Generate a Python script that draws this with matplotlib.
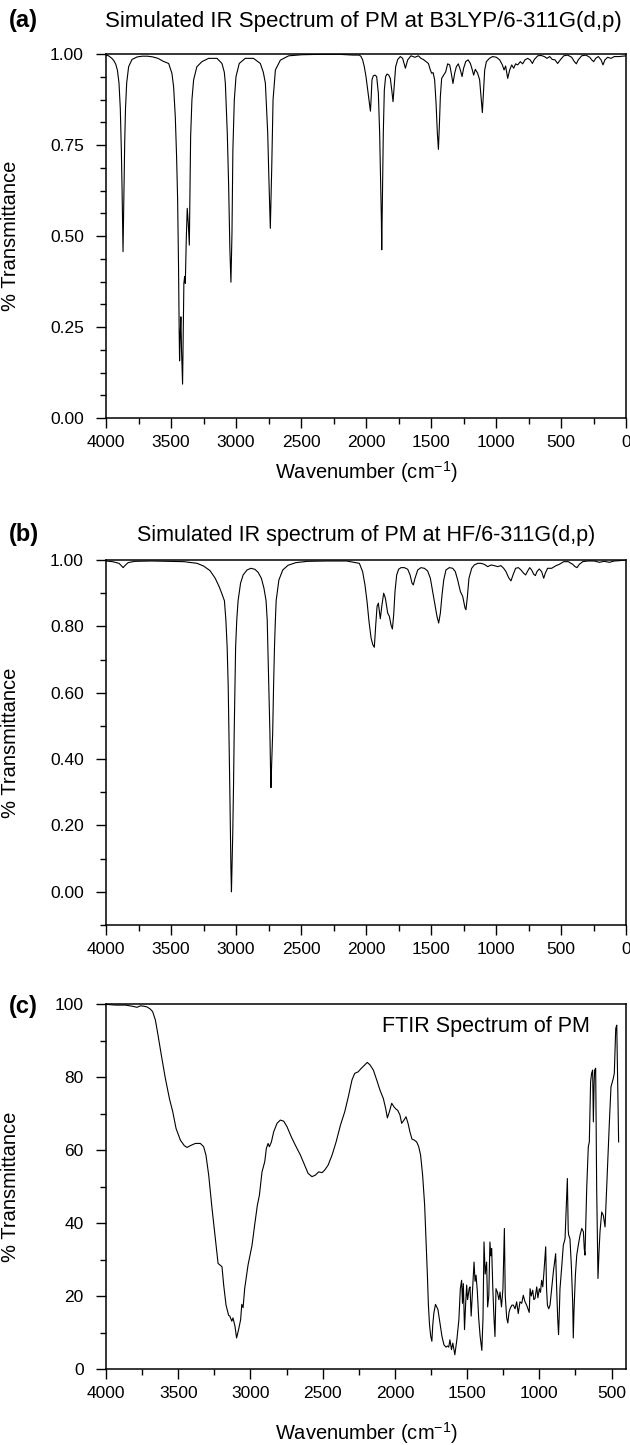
import matplotlib
matplotlib.use('Agg')

import matplotlib.pyplot as plt
from matplotlib.ticker import MultipleLocator, FormatStrFormatter

plt.rcParams['font.family'] = ['Liberation Sans', 'DejaVu Sans']
plt.rcParams['mathtext.default'] = 'regular'

# -------------------------
# Data
# -------------------------
# (a) simulated IR, B3LYP/6-311G(d,p): wavenumber (cm-1), transmittance
wn_a = [4000, 3980, 3955, 3940, 3925, 3912, 3900, 3890, 3882, 3876, 3872, 3869,
        3866, 3862, 3856, 3850, 3841, 3826, 3800, 3760, 3720, 3680, 3640, 3600,
        3560, 3518, 3493, 3480, 3467, 3457, 3449, 3442, 3437, 3434, 3429, 3424,
        3419, 3411, 3406, 3401, 3395, 3390, 3382, 3375, 3367, 3359, 3354, 3349,
        3339, 3326, 3301, 3262, 3211, 3146, 3108, 3090, 3082, 3067, 3057, 3047,
        3039, 3031, 3024, 3013, 3000, 2975, 2929, 2865, 2813, 2790, 2774, 2756,
        2746, 2736, 2725, 2715, 2697, 2659, 2595, 2492, 2364, 2200, 2100, 2051,
        2038, 2026, 2013, 2000, 1987, 1974, 1966, 1961, 1954, 1944, 1931, 1918,
        1905, 1895, 1887, 1882, 1879, 1874, 1867, 1859, 1849, 1838, 1825, 1813,
        1802, 1792, 1782, 1772, 1756, 1736, 1718, 1697, 1679, 1654, 1623, 1597,
        1577, 1559, 1538, 1520, 1505, 1495, 1484, 1472, 1461, 1451, 1443, 1436,
        1428, 1418, 1402, 1387, 1372, 1356, 1344, 1331, 1318, 1305, 1290, 1274,
        1261, 1249, 1233, 1215, 1197, 1182, 1172, 1159, 1141, 1126, 1115, 1105,
        1097, 1087, 1074, 1051, 1026, 997, 972, 951, 938, 926, 910, 895,
        879, 864, 849, 833, 813, 795, 777, 756, 738, 720, 705, 679,
        654, 628, 608, 587, 567, 546, 526, 505, 479, 449, 418, 397,
        382, 367, 341, 308, 279, 264, 249, 233, 213, 192, 177, 162,
        141, 115, 90, 51, 0]
tr_a = [0.997, 0.995, 0.988, 0.982, 0.972, 0.955, 0.920, 0.850, 0.736, 0.620, 0.520, 0.457,
        0.530, 0.645, 0.760, 0.850, 0.920, 0.965, 0.985, 0.992, 0.994, 0.994, 0.992, 0.988,
        0.980, 0.974, 0.947, 0.910, 0.828, 0.718, 0.600, 0.415, 0.233, 0.157, 0.230, 0.278,
        0.187, 0.093, 0.233, 0.370, 0.389, 0.370, 0.498, 0.576, 0.535, 0.475, 0.626, 0.773,
        0.874, 0.929, 0.965, 0.979, 0.988, 0.988, 0.974, 0.950, 0.920, 0.782, 0.645, 0.462,
        0.373, 0.507, 0.736, 0.874, 0.938, 0.974, 0.988, 0.988, 0.974, 0.950, 0.920, 0.782,
        0.645, 0.521, 0.690, 0.874, 0.956, 0.983, 0.995, 0.998, 0.999, 0.999, 0.997, 0.997,
        0.993, 0.984, 0.965, 0.938, 0.901, 0.864, 0.843, 0.874, 0.929, 0.940, 0.942, 0.938,
        0.892, 0.782, 0.645, 0.550, 0.462, 0.600, 0.782, 0.901, 0.938, 0.945, 0.942, 0.933,
        0.901, 0.869, 0.919, 0.965, 0.985, 0.993, 0.988, 0.961, 0.984, 0.995, 0.991, 0.995,
        0.988, 0.985, 0.979, 0.974, 0.956, 0.947, 0.949, 0.929, 0.864, 0.782, 0.738, 0.800,
        0.883, 0.933, 0.942, 0.951, 0.973, 0.970, 0.947, 0.919, 0.947, 0.965, 0.973, 0.956,
        0.938, 0.961, 0.979, 0.984, 0.974, 0.956, 0.942, 0.958, 0.947, 0.929, 0.883, 0.839,
        0.892, 0.956, 0.979, 0.988, 0.993, 0.991, 0.984, 0.970, 0.956, 0.967, 0.933, 0.956,
        0.970, 0.961, 0.973, 0.970, 0.979, 0.973, 0.984, 0.988, 0.984, 0.974, 0.985, 0.995,
        0.996, 0.993, 0.988, 0.993, 0.985, 0.984, 0.974, 0.984, 0.995, 0.997, 0.991, 0.979,
        0.973, 0.984, 0.995, 0.997, 0.991, 0.984, 0.979, 0.988, 0.993, 0.984, 0.970, 0.984,
        0.991, 0.988, 0.993, 0.993, 0.995]

# (b) simulated IR, HF/6-311G(d,p)
wn_b = [4000, 3950, 3900, 3882, 3868, 3855, 3830, 3780, 3650, 3500, 3400, 3300,
        3250, 3200, 3160, 3130, 3110, 3089, 3078, 3068, 3060, 3054, 3048, 3043,
        3039, 3035, 3031, 3025, 3019, 3014, 3008, 3003, 2994, 2984, 2965, 2945,
        2915, 2885, 2855, 2830, 2805, 2785, 2769, 2760, 2755, 2745, 2739, 2734,
        2731, 2727, 2718, 2711, 2704, 2697, 2691, 2670, 2640, 2600, 2540, 2450,
        2300, 2150, 2051, 2026, 2008, 1992, 1977, 1961, 1948, 1936, 1925, 1915,
        1905, 1890, 1877, 1864, 1851, 1833, 1820, 1808, 1797, 1787, 1777, 1764,
        1749, 1731, 1705, 1679, 1661, 1646, 1636, 1623, 1602, 1577, 1551, 1526,
        1505, 1487, 1469, 1454, 1441, 1428, 1415, 1402, 1385, 1359, 1333, 1313,
        1295, 1274, 1256, 1238, 1231, 1220, 1208, 1187, 1167, 1141, 1115, 1090,
        1064, 1038, 1013, 987, 962, 941, 923, 903, 885, 869, 849, 828,
        808, 787, 772, 756, 741, 726, 710, 697, 685, 667, 649, 633,
        621, 603, 572, 538, 513, 479, 444, 410, 392, 377, 359, 333,
        295, 244, 205, 167, 128, 90, 51, 0]
tr_b = [0.997, 0.995, 0.990, 0.983, 0.977, 0.983, 0.992, 0.996, 0.997, 0.996, 0.995, 0.990,
        0.982, 0.968, 0.945, 0.920, 0.900, 0.877, 0.820, 0.737, 0.620, 0.477, 0.320, 0.176,
        0.070, 0.000, 0.070, 0.176, 0.320, 0.477, 0.620, 0.737, 0.820, 0.877, 0.930, 0.955,
        0.970, 0.975, 0.972, 0.963, 0.945, 0.915, 0.878, 0.820, 0.737, 0.580, 0.477, 0.360,
        0.314, 0.370, 0.477, 0.620, 0.737, 0.820, 0.878, 0.940, 0.970, 0.984, 0.992, 0.996,
        0.997, 0.997, 0.990, 0.965, 0.925, 0.875, 0.815, 0.765, 0.745, 0.737, 0.805, 0.860,
        0.870, 0.823, 0.865, 0.900, 0.885, 0.840, 0.830, 0.805, 0.792, 0.835, 0.905, 0.955,
        0.972, 0.977, 0.977, 0.972, 0.955, 0.930, 0.925, 0.945, 0.970, 0.977, 0.975, 0.967,
        0.945, 0.905, 0.865, 0.830, 0.810, 0.840, 0.895, 0.940, 0.970, 0.977, 0.975, 0.965,
        0.940, 0.905, 0.890, 0.855, 0.850, 0.890, 0.945, 0.975, 0.985, 0.990, 0.990, 0.987,
        0.980, 0.985, 0.983, 0.980, 0.983, 0.975, 0.965, 0.947, 0.937, 0.955, 0.975, 0.977,
        0.970, 0.960, 0.955, 0.967, 0.977, 0.970, 0.957, 0.953, 0.965, 0.973, 0.965, 0.945,
        0.960, 0.975, 0.975, 0.983, 0.987, 0.995, 0.995, 0.987, 0.980, 0.977, 0.987, 0.995,
        0.997, 0.997, 0.993, 0.996, 0.993, 0.997, 0.998, 1.000]

# (c) experimental FTIR, % transmittance
wn_c = [4000, 3935, 3866, 3820, 3785, 3762, 3739, 3716, 3693, 3677, 3658, 3640,
        3617, 3589, 3561, 3538, 3515, 3485, 3458, 3439, 3416, 3381, 3347, 3324,
        3308, 3289, 3266, 3243, 3224, 3208, 3197, 3185, 3169, 3151, 3143, 3129,
        3121, 3107, 3096, 3082, 3068, 3060, 3051, 3040, 3017, 2989, 2971, 2952,
        2938, 2920, 2901, 2890, 2878, 2869, 2855, 2839, 2816, 2793, 2770, 2747,
        2717, 2689, 2654, 2624, 2601, 2574, 2551, 2528, 2504, 2486, 2463, 2435,
        2407, 2377, 2347, 2320, 2297, 2278, 2255, 2232, 2209, 2191, 2172, 2149,
        2126, 2103, 2080, 2064, 2052, 2038, 2022, 2006, 1992, 1981, 1965, 1953,
        1937, 1923, 1909, 1896, 1882, 1865, 1849, 1835, 1822, 1808, 1794, 1785,
        1775, 1768, 1760, 1752, 1744, 1738, 1730, 1719, 1702, 1688, 1674, 1660,
        1646, 1635, 1627, 1619, 1608, 1599, 1585, 1571, 1557, 1547, 1538, 1532,
        1526, 1518, 1510, 1503, 1497, 1492, 1486, 1480, 1472, 1463, 1452, 1445,
        1438, 1429, 1420, 1410, 1398, 1390, 1383, 1375, 1365, 1358, 1350, 1342,
        1336, 1330, 1322, 1314, 1307, 1300, 1290, 1280, 1272, 1262, 1252, 1242,
        1236, 1226, 1218, 1210, 1203, 1190, 1180, 1168, 1157, 1146, 1134, 1122,
        1111, 1100, 1088, 1075, 1070, 1064, 1056, 1046, 1038, 1030, 1018, 1010,
        1000, 992, 984, 976, 968, 956, 950, 944, 935, 926, 915, 903,
        887, 880, 873, 867, 862, 857, 845, 834, 822, 806, 800, 797,
        788, 778, 769, 765, 760, 750, 741, 730, 718, 706, 695, 689,
        684, 678, 672, 661, 654, 645, 638, 631, 626, 621, 617, 610,
        603, 594, 587, 580, 568, 557, 545, 534, 525, 515, 504, 488,
        481, 471, 464, 457, 451]
tr_c = [99.9, 99.7, 99.7, 99.4, 99.1, 99.5, 99.4, 99.2, 98.6, 97.9, 95.6, 91.5,
        86.0, 79.6, 74.1, 70.5, 65.9, 62.7, 61.2, 60.7, 61.2, 61.8, 61.8, 60.9,
        58.6, 53.1, 44.0, 35.7, 28.9, 28.4, 28.0, 22.9, 17.5, 14.7, 14.5, 13.1,
        14.0, 11.7, 8.5, 10.8, 13.5, 17.7, 16.8, 22.0, 28.4, 33.9, 39.4, 44.9,
        47.6, 54.0, 56.8, 60.4, 61.8, 60.9, 62.2, 65.0, 67.3, 68.2, 67.9, 66.4,
        63.6, 61.3, 58.6, 55.8, 53.6, 52.7, 53.1, 54.0, 53.8, 54.5, 55.8, 58.6,
        62.2, 66.8, 70.5, 75.0, 79.2, 81.0, 81.4, 82.4, 83.3, 84.0, 83.3, 81.9,
        79.2, 76.4, 74.1, 71.4, 68.8, 70.5, 72.8, 71.8, 71.2, 70.9, 69.6, 67.3,
        68.2, 69.1, 67.3, 65.0, 63.0, 62.7, 62.2, 60.9, 58.6, 53.1, 44.9, 35.7,
        25.7, 17.5, 12.0, 9.0, 7.6, 12.0, 15.4, 17.7, 16.3, 12.6, 8.9, 6.6,
        6.0, 6.3, 6.0, 8.0, 5.3, 7.1, 3.9, 8.0, 13.5, 22.0, 24.3, 18.0,
        23.4, 10.8, 18.0, 23.0, 19.0, 20.2, 22.0, 22.5, 14.5, 21.0, 29.3, 24.0,
        25.7, 21.1, 14.0, 9.0, 5.1, 14.0, 34.8, 26.0, 29.3, 17.0, 20.0, 34.8,
        31.0, 33.0, 22.0, 14.0, 8.9, 22.0, 21.0, 19.0, 21.1, 17.0, 22.0, 38.5,
        20.0, 14.0, 12.6, 15.5, 16.5, 17.5, 17.5, 16.5, 18.4, 15.2, 18.4, 18.0,
        20.2, 18.5, 17.5, 16.0, 15.5, 22.0, 20.0, 21.6, 19.0, 19.3, 22.5, 19.5,
        22.0, 21.0, 24.3, 22.5, 26.6, 33.5, 22.0, 17.5, 16.5, 17.5, 22.0, 26.6,
        31.6, 22.0, 14.0, 9.4, 15.0, 22.0, 28.0, 33.9, 35.7, 52.2, 38.0, 36.7,
        35.7, 28.0, 18.0, 8.5, 16.0, 26.0, 31.2, 34.0, 36.7, 38.5, 37.6, 33.0,
        31.2, 40.0, 49.5, 60.9, 62.2, 78.7, 81.0, 81.9, 67.7, 78.0, 81.9, 82.4,
        49.5, 24.8, 32.0, 37.6, 43.0, 42.1, 38.9, 49.5, 58.0, 67.7, 77.3, 79.6,
        81.0, 93.3, 94.2, 76.9, 62.2]

xticks_ab = [4000, 3500, 3000, 2500, 2000, 1500, 1000, 500, 0]
xticks_c = [4000, 3500, 3000, 2500, 2000, 1500, 1000, 500]

# -------------------------
# Figure layout (pixel positions of the reference, 630 x 1445)
# -------------------------
W, H = 630.0, 1445.0
fig = plt.figure(figsize=(6.3, 14.45), dpi=100)


def box(left, top, right, bottom):
    return [left / W, 1 - bottom / H, (right - left) / W, (bottom - top) / H]


ax_a = fig.add_axes(box(106, 54, 626, 418))
ax_b = fig.add_axes(box(106, 560, 626, 925))
ax_c = fig.add_axes(box(106, 1004, 626, 1369))

TICK_FS = 12.5
LABEL_FS = 14.5


def style(ax):
    for s in ax.spines.values():
        s.set_linewidth(1.1)
    ax.tick_params(which='both', direction='out', top=False, right=False,
                   width=1.0, labelsize=TICK_FS)
    ax.tick_params(which='major', length=7)
    ax.tick_params(which='minor', length=4.5)
    ax.tick_params(axis='y', which='major', pad=9)
    ax.tick_params(axis='x', which='major', pad=5)
    ax.set_ylabel('% Transmittance', fontsize=LABEL_FS)
    ax.yaxis.set_label_coords(-0.165, 0.5)


# -------------------------
# (a)
# -------------------------
ax_a.plot(wn_a, tr_a, color='black', lw=0.8)
ax_a.set_xlim(4000, 0)
ax_a.set_ylim(0, 1.0)
ax_a.set_xticks(xticks_ab)
ax_a.xaxis.set_minor_locator(MultipleLocator(250))
ax_a.yaxis.set_major_locator(MultipleLocator(0.25))
ax_a.yaxis.set_minor_locator(MultipleLocator(0.0625))
ax_a.yaxis.set_major_formatter(FormatStrFormatter('%.2f'))
style(ax_a)
ax_a.set_xlabel('Wavenumber (cm$^{-1}$)', fontsize=LABEL_FS, labelpad=7)

# -------------------------
# (b)
# -------------------------
ax_b.plot(wn_b, tr_b, color='black', lw=0.8)
ax_b.set_xlim(4000, 0)
ax_b.set_ylim(-0.1, 1.0)
ax_b.set_xticks(xticks_ab)
ax_b.xaxis.set_minor_locator(MultipleLocator(250))
ax_b.yaxis.set_major_locator(MultipleLocator(0.2))
ax_b.yaxis.set_minor_locator(MultipleLocator(0.1))
ax_b.yaxis.set_major_formatter(FormatStrFormatter('%.2f'))
style(ax_b)

# -------------------------
# (c)
# -------------------------
ax_c.plot(wn_c, tr_c, color='black', lw=0.8)
ax_c.set_xlim(4000, 400)
ax_c.set_ylim(0, 100)
ax_c.set_xticks(xticks_c)
ax_c.xaxis.set_minor_locator(MultipleLocator(250))
ax_c.yaxis.set_major_locator(MultipleLocator(20))
ax_c.yaxis.set_minor_locator(MultipleLocator(10))
style(ax_c)
ax_c.text(0.731, 0.937, 'FTIR Spectrum of PM', transform=ax_c.transAxes,
          ha='center', va='center', fontsize=15.5)
fig.text(366 / W, 1 - 1433 / H, 'Wavenumber (cm$^{-1}$)', ha='center',
         va='center', fontsize=LABEL_FS)

# -------------------------
# Titles and panel letters
# -------------------------
fig.text(363 / W, 1 - 22 / H, 'Simulated IR Spectrum of PM at B3LYP/6-311G(d,p)',
         ha='center', va='center', fontsize=16)
fig.text(366 / W, 1 - 536 / H, 'Simulated IR spectrum of PM at HF/6-311G(d,p)',
         ha='center', va='center', fontsize=15.5)
for letter, y in [('(a)', 20), ('(b)', 534), ('(c)', 1006)]:
    fig.text(9 / W, 1 - y / H, letter, ha='left', va='center',
             fontsize=17, fontweight='bold')

plt.savefig('out.png', dpi=100)
plt.close()
